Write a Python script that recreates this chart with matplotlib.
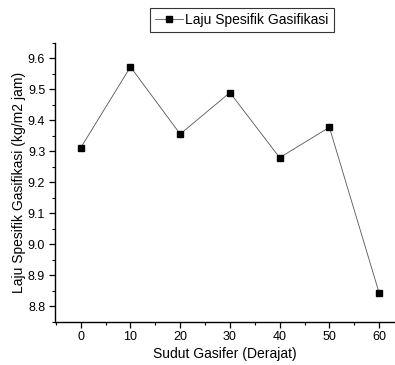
import matplotlib
matplotlib.use("Agg")
import matplotlib.pyplot as plt
from matplotlib.ticker import MultipleLocator

plt.rcParams['font.family'] = ['Liberation Sans', 'DejaVu Sans']

sudut = [0, 10, 20, 30, 40, 50, 60]
laju = [9.311, 9.572, 9.355, 9.489, 9.279, 9.377, 8.843]

fig = plt.figure(figsize=(3.95, 3.65), dpi=100)
ax = fig.add_axes([0.139, 0.119, 0.861, 0.764])

ax.plot(sudut, laju, color='#555555', lw=0.6, marker='s', markersize=5,
        markerfacecolor='black', markeredgecolor='black',
        label='Laju Spesifik Gasifikasi')

ax.set_xlim(-5.2, 63.2)
ax.set_ylim(8.75, 9.65)
ax.xaxis.set_major_locator(MultipleLocator(10))
ax.xaxis.set_minor_locator(MultipleLocator(5))
ax.yaxis.set_major_locator(MultipleLocator(0.1))
ax.yaxis.set_minor_locator(MultipleLocator(0.05))

for side in ('top', 'right'):
    ax.spines[side].set_visible(False)
for side in ('left', 'bottom'):
    ax.spines[side].set_linewidth(1.0)

ax.tick_params(which='major', direction='out', length=4, width=0.9,
               labelsize=9, colors='black', pad=3)
ax.tick_params(which='minor', direction='out', length=2, width=0.8)

ax.set_xlabel('Sudut Gasifer (Derajat)', fontsize=10, labelpad=3)
ax.set_ylabel('Laju Spesifik Gasifikasi (kg/m2 jam)', fontsize=10, labelpad=1)

leg = fig.legend(loc='upper left', bbox_to_anchor=(150/395, 1 - 8/365),
                 fontsize=10, frameon=True, fancybox=False, edgecolor='black',
                 handlelength=2.0, borderpad=0.35, borderaxespad=0,
                 handletextpad=0.2)
leg.get_frame().set_linewidth(0.8)

fig.savefig('out.png', dpi=100)
